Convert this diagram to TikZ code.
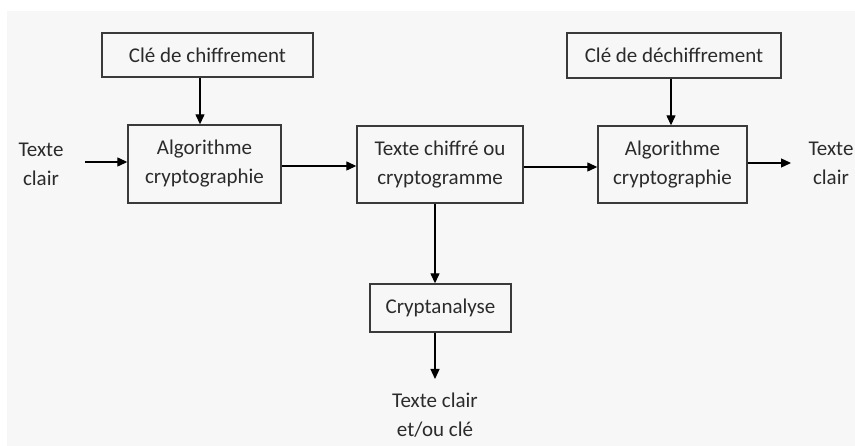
\documentclass[tikz,border=0pt]{standalone}
\usepackage{fontspec}
\setmainfont{Carlito}
\usetikzlibrary{arrows.meta}
\definecolor{bg}{HTML}{F7F7F7}
\definecolor{ink}{HTML}{2B2B2B}
\definecolor{edge}{HTML}{3A3A3A}
\begin{document}
\begin{tikzpicture}[x=1pt,y=-1pt,
  box/.style={draw=edge,line width=1.4pt,inner sep=0pt,anchor=center,
    align=center,text=ink,font=\fontsize{21}{29}\selectfont},
  lbl/.style={inner sep=0pt,align=center,text=ink,font=\fontsize{21}{29}\selectfont},
  arr/.style={draw=black,line width=1.3pt,-{Triangle[length=10pt,width=9pt]}}]
  \useasboundingbox (0,0) rectangle (855,446);
  \fill[bg] (7,11) rectangle (855,446);

  % boxes
  \node[box,minimum width=211pt,minimum height=44pt] (key1) at (207.5,55) {Clé de chiffrement};
  \node[box,minimum width=153pt,minimum height=78pt] (algo1) at (204.5,164) {Algorithme\\cryptographie};
  \node[box,minimum width=166pt,minimum height=77pt] (cipher) at (440,164.5) {Texte chiffré ou\\cryptogramme};
  \node[box,minimum width=214pt,minimum height=45pt] (key2) at (674,55.5) {Clé de déchiffrement};
  \node[box,minimum width=149pt,minimum height=77pt] (algo2) at (672.5,164.5) {Algorithme\\cryptographie};
  \node[box,minimum width=141pt,minimum height=48pt] (crypta) at (440.5,308) {Cryptanalyse};

  % free texts
  \node[lbl] (plainin) at (41,164) {Texte\\clair};
  \node[lbl] (plainout) at (831,163) {Texte\\clair};
  \node[lbl] (result) at (435,415) {Texte clair\\et/ou clé};

  % connectors
  \coordinate (inStart) at (85,162);
  \coordinate (outEnd) at (791,163);
  \coordinate (attackEnd) at (435,379);
  \draw[arr] (inStart) -- (inStart -| algo1.west);
  \draw[arr] ([xshift=-7.5pt]key1.south) -- ([xshift=-7.5pt]key1.south |- algo1.north);
  \draw[arr] ([yshift=-2pt]algo1.east) -- ([yshift=-2pt]algo1.east -| cipher.west);
  \draw[arr] ([yshift=-2.5pt]cipher.east) -- ([yshift=-2.5pt]cipher.east -| algo2.west);
  \draw[arr] ([xshift=-3pt]key2.south) -- ([xshift=-3pt]key2.south |- algo2.north);
  \draw[arr] (algo2.east |- outEnd) -- (outEnd);
  \draw[arr] ([xshift=-5pt]cipher.south) -- ([xshift=-5pt]cipher.south |- crypta.north);
  \draw[arr] (crypta.south -| attackEnd) -- (attackEnd);
\end{tikzpicture}
\end{document}
